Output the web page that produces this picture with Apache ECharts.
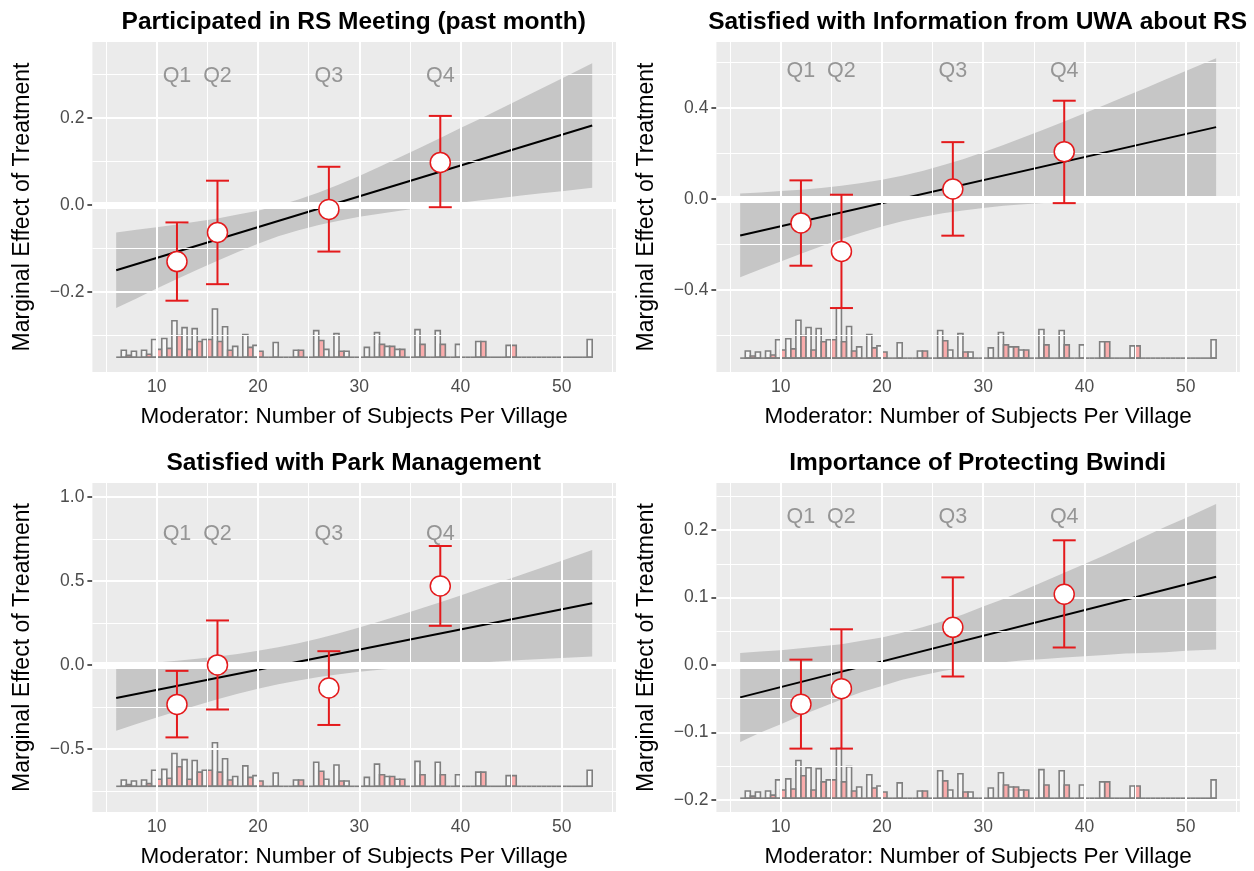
<!DOCTYPE html>
<html><head><meta charset="utf-8">
<script src="https://cdn.jsdelivr.net/npm/echarts@6/dist/echarts.min.js"></script>
<style>html,body{margin:0;padding:0;background:#fff}#c{width:1254px;height:871px}</style>
</head><body><div id="c"></div>
<script>
// ---------------- DATA ----------------
const panelTitles = [
  'Participated in RS Meeting (past month)',
  'Satisfied with Information from UWA about RS',
  'Satisfied with Park Management',
  'Importance of Protecting Bwindi'
];
const xTitle = 'Moderator: Number of Subjects Per Village';
const yTitle = 'Marginal Effect of Treatment';
const xTicks = [10, 20, 30, 40, 50];
const quartileLabels = ['Q1', 'Q2', 'Q3', 'Q4'];
const quartileX = [12, 16, 27, 38];

// binned estimates (point, lower, upper) per panel
const p1Est = [-0.130, -0.063, -0.010, 0.098];
const p1Lo  = [-0.220, -0.182, -0.107, -0.005];
const p1Hi  = [-0.040, 0.056, 0.088, 0.205];
const p2Est = [-0.105, -0.230, 0.044, 0.208];
const p2Lo  = [-0.293, -0.479, -0.161, -0.018];
const p2Hi  = [0.082, 0.019, 0.250, 0.432];
const p3Est = [-0.235, 0.000, -0.137, 0.470];
const p3Lo  = [-0.431, -0.265, -0.357, 0.233];
const p3Hi  = [-0.035, 0.265, 0.082, 0.708];
const p4Est = [-0.058, -0.035, 0.056, 0.105];
const p4Lo  = [-0.124, -0.124, -0.017, 0.026];
const p4Hi  = [0.008, 0.053, 0.130, 0.185];

// linear marginal effect line
const lineX = [6, 53];
const p1Line = [-0.150, 0.183];
const p2Line = [-0.160, 0.316];
const p3Line = [-0.197, 0.367];
const p4Line = [-0.048, 0.131];

// confidence band (read along the moderator)
const bandX = [6, 8, 10, 12, 14, 16, 18, 20, 22, 24, 26, 28, 30, 32, 34, 36, 38, 40, 42, 44, 46, 48, 50, 53];
const p1BandLo = [-0.237, -0.215, -0.192, -0.170, -0.149, -0.128, -0.108, -0.089, -0.072, -0.058, -0.046, -0.036, -0.027, -0.020, -0.013, -0.007, -0.001, 0.005, 0.011, 0.016, 0.022, 0.027, 0.032, 0.040];
const p1BandHi = [-0.063, -0.057, -0.051, -0.045, -0.038, -0.031, -0.022, -0.013, -0.001, 0.013, 0.029, 0.047, 0.067, 0.088, 0.110, 0.132, 0.154, 0.177, 0.199, 0.222, 0.245, 0.268, 0.291, 0.326];
const p2BandLo = [-0.344, -0.309, -0.274, -0.240, -0.207, -0.176, -0.147, -0.121, -0.098, -0.079, -0.063, -0.050, -0.039, -0.030, -0.023, -0.017, -0.012, -0.008, -0.004, 0.000, 0.003, 0.006, 0.009, 0.013];
const p2BandHi = [0.024, 0.029, 0.035, 0.041, 0.049, 0.058, 0.070, 0.085, 0.102, 0.123, 0.148, 0.175, 0.206, 0.237, 0.271, 0.305, 0.341, 0.377, 0.413, 0.450, 0.487, 0.525, 0.563, 0.619];
const p3BandLo = [-0.392, -0.352, -0.313, -0.275, -0.239, -0.204, -0.171, -0.142, -0.115, -0.092, -0.072, -0.055, -0.041, -0.029, -0.018, -0.009, 0.000, 0.008, 0.015, 0.022, 0.029, 0.035, 0.041, 0.050];
const p3BandHi = [-0.002, 0.006, 0.015, 0.025, 0.037, 0.050, 0.065, 0.084, 0.105, 0.130, 0.158, 0.189, 0.223, 0.259, 0.296, 0.335, 0.374, 0.414, 0.455, 0.496, 0.537, 0.579, 0.621, 0.684];
const p4BandLo = [-0.114, -0.100, -0.088, -0.075, -0.063, -0.051, -0.040, -0.031, -0.022, -0.015, -0.009, -0.004, 0.000, 0.004, 0.007, 0.009, 0.011, 0.013, 0.015, 0.017, 0.018, 0.019, 0.021, 0.023];
const p4BandHi = [0.018, 0.020, 0.022, 0.025, 0.028, 0.031, 0.036, 0.041, 0.048, 0.056, 0.065, 0.075, 0.087, 0.098, 0.111, 0.124, 0.137, 0.150, 0.163, 0.177, 0.191, 0.205, 0.218, 0.239];

// Q label heights
const qLabelY = [0.297, 0.561, 0.778, 0.219];

// histogram of moderator: value, total count, treated count
const histValue   = [6,7,8,9,10,11,12,13,14,15,16,17,18,19,20,21,22,23,24,25,26,27,28,29,30,31,32,33,34,35,36,37,38,39,40,41,42,43,44,45,46,47,48,49,50,51,52,53];
const histTotal   = [0,7,6,7,18,19,37,30,29,18,49,31,11,23,12,0,15,0,7,0,27,8,24,6,0,10,25,11,8,0,28,0,27,0,13,0,16,0,0,12,0,0,0,0,0,0,0,18];
const histTreated = [0,2,0,3,8,9,22,8,16,18,16,7,0,10,6,0,0,0,7,0,17,0,6,0,0,0,13,11,8,0,13,0,13,0,0,0,16,0,0,12,0,0,0,0,0,0,0,0];

// y axis per panel: range, major ticks, minor lines, histogram base & height
const yMin = [-0.384, -0.760, -0.875, -0.218];
const yMax = [0.375, 0.690, 1.083, 0.270];
const yMajor = [[-0.2, 0, 0.2], [-0.4, 0, 0.4], [-0.5, 0, 0.5, 1.0], [-0.2, -0.1, 0, 0.1, 0.2]];
const yMinor = [[-0.3, -0.1, 0.1, 0.3], [-0.6, -0.2, 0.2, 0.6], [-0.75, -0.25, 0.25, 0.75], [-0.15, -0.05, 0.05, 0.15, 0.25]];
const histBase = [-0.350, -0.699, -0.722, -0.1975];
const histHeight = [0.111, 0.220, 0.259, 0.074];
const xMajor = [10, 20, 30, 40, 50];
const xMinor = [5, 15, 25, 35, 45, 55];

// ---------------- CHART ----------------
const est = [p1Est, p2Est, p3Est, p4Est];
const lo = [p1Lo, p2Lo, p3Lo, p4Lo];
const hi = [p1Hi, p2Hi, p3Hi, p4Hi];
const lines = [p1Line, p2Line, p3Line, p4Line];
const bandLo = [p1BandLo, p2BandLo, p3BandLo, p4BandLo];
const bandHi = [p1BandHi, p2BandHi, p3BandHi, p4BandHi];

const panels = [
  {left: 92.4, top: 42, width: 523.6, height: 330},
  {left: 716.4, top: 42, width: 523.5, height: 330},
  {left: 92.4, top: 483, width: 523.6, height: 329},
  {left: 716.4, top: 483, width: 523.5, height: 329}
];
const FONT = '"Liberation Sans", Arial, Helvetica, sans-serif';
const RED = '#E41A1C';

function fmtY(v) {
  const s = Math.abs(v).toFixed(1);
  return (v < -1e-9 ? '\u2212' : '') + s;
}

// histogram bins (0.5 wide): white bar (v-0.5, v], treated bar [v, v+0.5)
const histMax = Math.max.apply(null, histTotal);
function histBins() {
  const first = histValue[0], last = histValue[histValue.length - 1];
  const bins = [];
  for (let i = 0; i < histValue.length; i++) {
    const v = histValue[i];
    if (v === first) {
      bins.push([v, v + 0.5, histTotal[i], histTreated[i]]);
    } else if (v === last) {
      bins.push([v - 0.5, v, histTotal[i], histTreated[i]]);
    } else {
      bins.push([v - 0.5, v, histTotal[i], 0]);
      bins.push([v, v + 0.5, 0, histTreated[i]]);
    }
  }
  return bins;
}
const bins = histBins();

const option = {
  animation: false,
  backgroundColor: '#ffffff',
  textStyle: {fontFamily: FONT},
  title: panels.map((p, i) => ({
    text: panelTitles[i],
    left: p.left + p.width / 2 - 5.5,
    top: p.top - 37,
    textAlign: 'center',
    textStyle: {fontFamily: FONT, fontSize: 24.5, fontWeight: 'bold', color: '#000'}
  })),
  grid: panels.map(p => ({
    left: p.left, top: p.top, width: p.width, height: p.height,
    show: true, backgroundColor: '#EBEBEB', borderWidth: 0, containLabel: false
  })),
  xAxis: panels.map((p, i) => ({
    type: 'value', gridIndex: i, min: 3.65, max: 55.35,
    name: xTitle, nameLocation: 'middle', nameGap: 33.5,
    nameTextStyle: {fontFamily: FONT, fontSize: 22.5, color: '#000'},
    axisLine: {show: false},
    axisTick: {show: true, length: 5, lineStyle: {color: '#333', width: 1.6}, customValues: xTicks},
    axisLabel: {show: true, customValues: xTicks, margin: 6, fontFamily: FONT, fontSize: 17.5, color: '#4D4D4D'},
    splitLine: {show: false}
  })),
  yAxis: panels.map((p, i) => ({
    type: 'value', gridIndex: i, min: yMin[i], max: yMax[i],
    name: yTitle, nameLocation: 'middle', nameGap: 58, nameRotate: 90,
    nameTextStyle: {fontFamily: FONT, fontSize: 23, color: '#000'},
    axisLine: {show: false},
    axisTick: {show: true, length: 5, lineStyle: {color: '#333', width: 1.6}, customValues: yMajor[i]},
    axisLabel: {show: true, customValues: yMajor[i], margin: 8, fontFamily: FONT, fontSize: 17.5, color: '#4D4D4D',
                formatter: v => fmtY(v)},
    splitLine: {show: false}
  })),
  series: []
};

panels.forEach((p, i) => {
  // grid lines + zero line
  const mlData = [];
  xMinor.forEach(v => mlData.push({xAxis: v, lineStyle: {color: '#fff', width: 1, type: 'solid'}}));
  yMinor[i].forEach(v => mlData.push({yAxis: v, lineStyle: {color: '#fff', width: 1, type: 'solid'}}));
  xMajor.forEach(v => mlData.push({xAxis: v, lineStyle: {color: '#fff', width: 2, type: 'solid'}}));
  yMajor[i].forEach(v => mlData.push({yAxis: v, lineStyle: {color: '#fff', width: 2, type: 'solid'}}));
  mlData.push({yAxis: 0, lineStyle: {color: '#fff', width: 7, type: 'solid'}});
  option.series.push({
    type: 'line', xAxisIndex: i, yAxisIndex: i, data: [], silent: true, z: 1,
    markLine: {silent: true, symbol: ['none', 'none'], label: {show: false}, animation: false, data: mlData}
  });

  // histogram
  option.series.push({
    type: 'custom', xAxisIndex: i, yAxisIndex: i, z: 2, silent: true,
    data: bins,
    renderItem: (params, api) => {
      const x0 = api.value(0), x1 = api.value(1), tot = api.value(2), tr = api.value(3);
      const base = histBase[i], H = histHeight[i];
      const children = [];
      const pb0 = api.coord([x0, base]);
      const pb1 = api.coord([x1, base]);
      const w = pb1[0] - pb0[0];
      const hgt = Math.max(tot, tr);
      if (hgt > 0) {
        const pt = api.coord([x0, base + hgt / histMax * H]);
        children.push({type: 'rect', shape: {x: pb0[0], y: pt[1], width: w, height: pb0[1] - pt[1]},
          style: {fill: 'rgba(255,255,255,0.6)', stroke: 'none'}});
      }
      if (tr > 0) {
        const pt = api.coord([x0, base + tr / histMax * H]);
        children.push({type: 'rect', shape: {x: pb0[0], y: pt[1], width: w, height: pb0[1] - pt[1]},
          style: {fill: 'rgba(255,0,0,0.3)', stroke: 'none'}});
      }
      if (tot > 0) {
        const pt = api.coord([x0, base + tot / histMax * H]);
        children.push({type: 'rect', shape: {x: pb0[0], y: pt[1], width: w, height: pb0[1] - pt[1]},
          style: {fill: 'none', stroke: '#7F7F7F', lineWidth: 1.6}});
      }
      if (tr > 0) {
        const pt = api.coord([x0, base + tr / histMax * H]);
        children.push({type: 'rect', shape: {x: pb0[0], y: pt[1], width: w, height: pb0[1] - pt[1]},
          style: {fill: 'none', stroke: '#7F7F7F', lineWidth: 1.6}});
      }
      children.push({type: 'line', shape: {x1: pb0[0], y1: pb0[1], x2: pb1[0], y2: pb1[1]},
        style: {stroke: '#7F7F7F', lineWidth: 1.6}});
      return {type: 'group', children};
    }
  });

  // confidence band
  option.series.push({
    type: 'custom', xAxisIndex: i, yAxisIndex: i, z: 3, silent: true,
    data: [0],
    renderItem: (params, api) => {
      const pts = [];
      bandX.forEach((x, k) => pts.push(api.coord([x, bandHi[i][k]])));
      for (let k = bandX.length - 1; k >= 0; k--) pts.push(api.coord([bandX[k], bandLo[i][k]]));
      return {type: 'polygon', shape: {points: pts}, style: {fill: 'rgba(127,127,127,0.34)', stroke: 'none'}};
    }
  });

  // line
  option.series.push({
    type: 'line', xAxisIndex: i, yAxisIndex: i, z: 4, silent: true,
    data: lineX.map((x, k) => [x, lines[i][k]]),
    showSymbol: false, lineStyle: {color: '#000', width: 2}
  });

  // error bars
  option.series.push({
    type: 'custom', xAxisIndex: i, yAxisIndex: i, z: 5, silent: true,
    data: quartileX.map((x, k) => [x, lo[i][k], hi[i][k]]),
    renderItem: (params, api) => {
      const a = api.coord([api.value(0), api.value(1)]);
      const b = api.coord([api.value(0), api.value(2)]);
      const hw = 11.5;
      const st = {stroke: RED, lineWidth: 2};
      return {type: 'group', children: [
        {type: 'line', shape: {x1: a[0], y1: a[1], x2: b[0], y2: b[1]}, style: st},
        {type: 'line', shape: {x1: a[0] - hw, y1: a[1], x2: a[0] + hw, y2: a[1]}, style: st},
        {type: 'line', shape: {x1: b[0] - hw, y1: b[1], x2: b[0] + hw, y2: b[1]}, style: st}
      ]};
    }
  });

  // points
  option.series.push({
    type: 'scatter', xAxisIndex: i, yAxisIndex: i, z: 6, silent: true,
    data: quartileX.map((x, k) => [x, est[i][k]]),
    symbol: 'circle', symbolSize: 20,
    itemStyle: {color: '#fff', borderColor: RED, borderWidth: 1.5, opacity: 1}
  });

  // quartile labels
  option.series.push({
    type: 'scatter', xAxisIndex: i, yAxisIndex: i, z: 7, silent: true,
    data: quartileX.map((x, k) => ({value: [x, qLabelY[i]], name: quartileLabels[k]})),
    symbolSize: 0,
    label: {show: true, position: 'inside', formatter: '{b}', fontFamily: FONT, fontSize: 21.5, color: '#7F7F7F'}
  });
});

const chart = echarts.init(document.getElementById('c'), null, {renderer: 'canvas'});
chart.setOption(option);
</script></body></html>
